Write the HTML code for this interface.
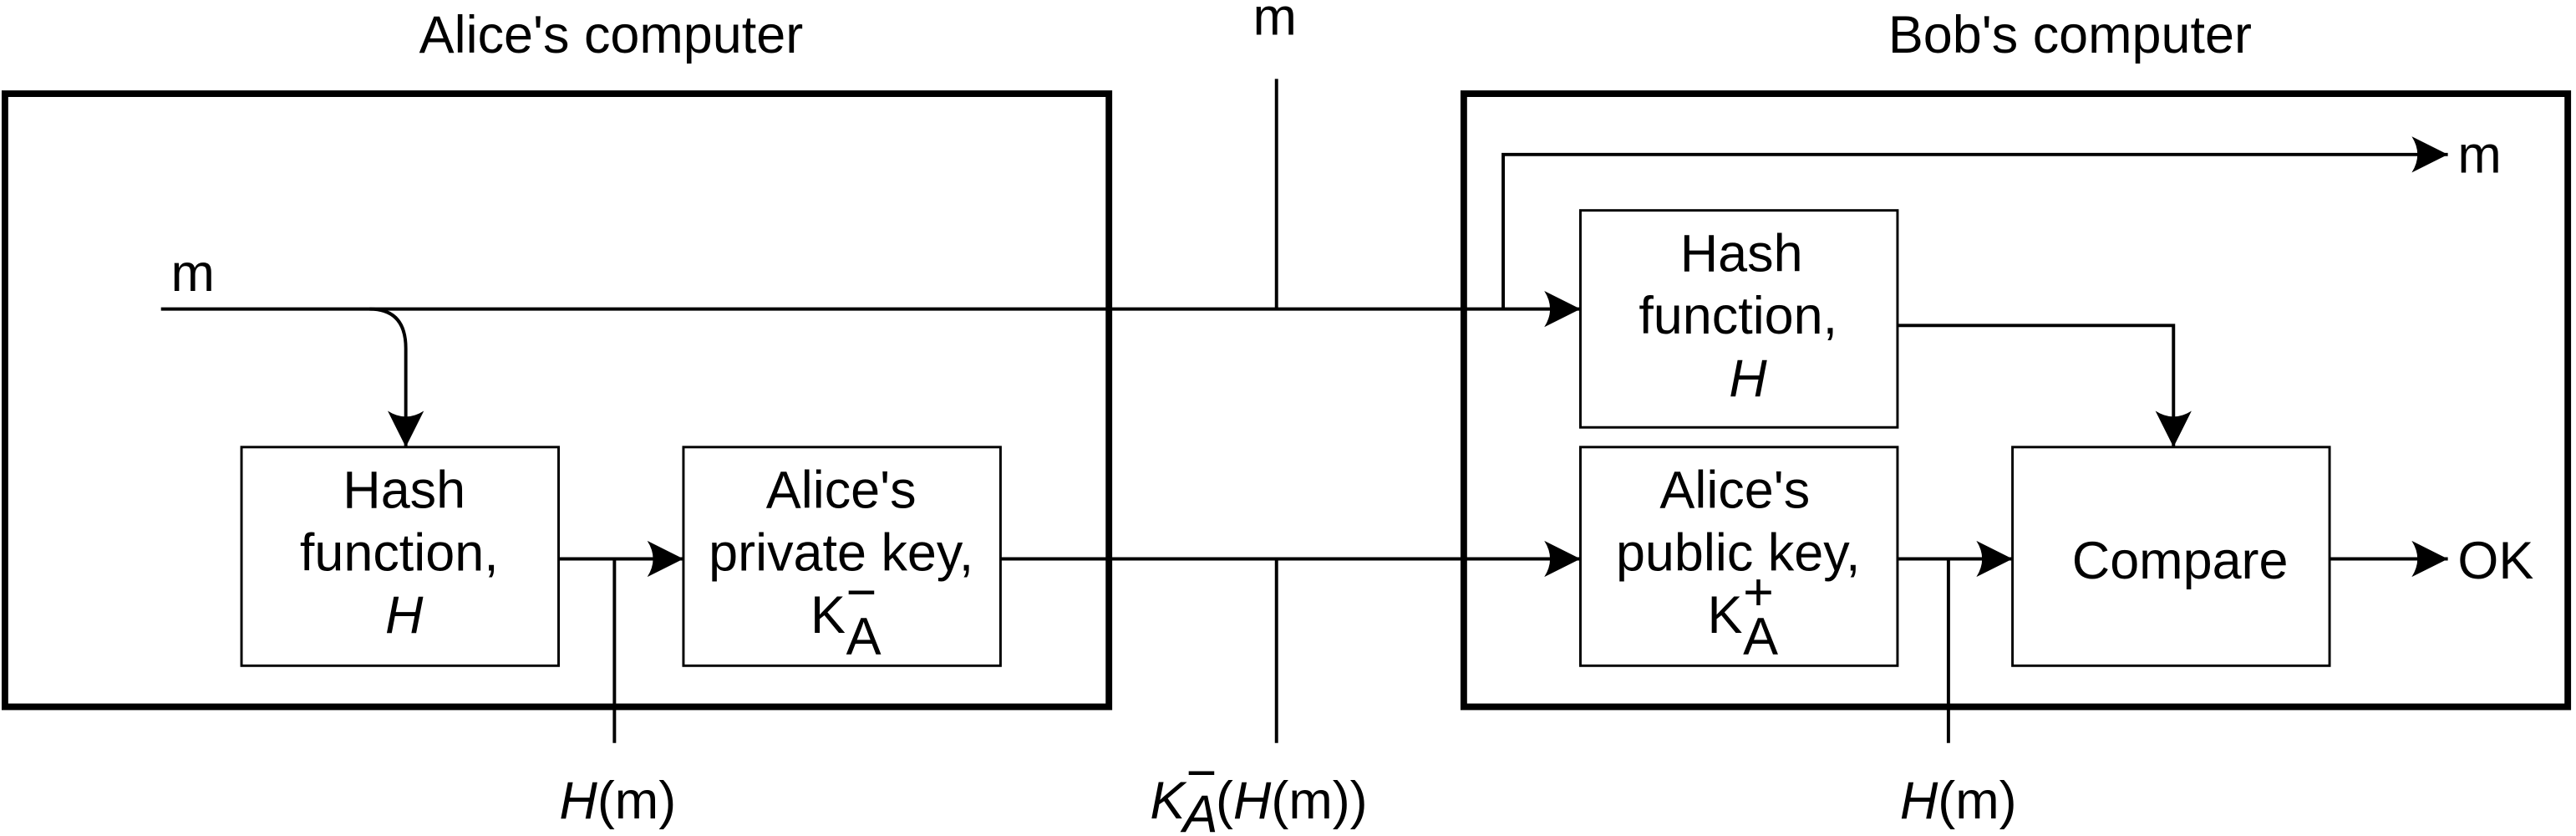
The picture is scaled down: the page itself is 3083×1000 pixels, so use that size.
<!DOCTYPE html>
<html><head><meta charset="utf-8"><style>
html,body{margin:0;padding:0;background:#fff}
svg{display:block}
text{font-family:"Liberation Sans",sans-serif;font-size:32px;fill:#000}
</style></head><body>
<svg width="3083" height="1000" viewBox="0 0 1568 508.6" xmlns="http://www.w3.org/2000/svg">
<defs>
<marker id="ah" markerWidth="24" markerHeight="22" refX="22" refY="11" orient="auto" markerUnits="userSpaceOnUse">
<path d="M0,0 L22,11 L0,22 Q7,11 0,0 Z" fill="#000"/>
</marker>
</defs>
<g fill="none" stroke="#000">
<rect x="3" y="57" width="672" height="373" stroke-width="4"/>
<rect x="891" y="57" width="672" height="373" stroke-width="4"/>
<g stroke-width="1.5">
<rect x="147" y="272" width="193" height="133"/>
<rect x="416" y="272" width="193" height="133"/>
<rect x="962" y="128" width="193" height="132"/>
<rect x="962" y="272" width="193" height="133"/>
<rect x="1225" y="272" width="193" height="133"/>
</g>
<g stroke-width="2">
<path d="M98,188 H962" marker-end="url(#ah)"/>
<path d="M225,188 Q247,188 247,212 V272" marker-end="url(#ah)"/>
<path d="M777,48 V188"/>
<path d="M340,340 H416" marker-end="url(#ah)"/>
<path d="M374,340 V452"/>
<path d="M609,340 H962" marker-end="url(#ah)"/>
<path d="M777,340 V452"/>
<path d="M915,188 V94 H1490" marker-end="url(#ah)"/>
<path d="M1155,198 H1323 V272" marker-end="url(#ah)"/>
<path d="M1155,340 H1225" marker-end="url(#ah)"/>
<path d="M1186,340 V452"/>
<path d="M1418,340 H1490" marker-end="url(#ah)"/>
</g>
</g>
<text x="372" y="32" text-anchor="middle" font-size="34">Alice's computer</text>
<text x="1260" y="32" text-anchor="middle" font-size="34">Bob's computer</text>
<text x="776" y="21" text-anchor="middle">m</text>
<text x="104" y="177">m</text>
<text x="1496" y="105">m</text>
<text x="1496" y="352">OK</text>
<text text-anchor="middle"><tspan x="246" y="309">Hash</tspan><tspan x="243" y="347">function,</tspan><tspan x="246" y="385" font-style="italic">H</tspan></text>
<text text-anchor="middle"><tspan x="512" y="309">Alice's</tspan><tspan x="512" y="347">private key,</tspan><tspan x="504" y="385">K</tspan></text>
<text x="515" y="371" font-size="24">−</text>
<text x="515" y="398" font-size="24">A</text>
<text text-anchor="middle"><tspan x="1060" y="165">Hash</tspan><tspan x="1058" y="203">function,</tspan><tspan x="1064" y="241" font-style="italic">H</tspan></text>
<text text-anchor="middle"><tspan x="1056" y="309">Alice's</tspan><tspan x="1058" y="347">public key,</tspan><tspan x="1050" y="385">K</tspan></text>
<text x="1061" y="371" font-size="24">+</text>
<text x="1061" y="398" font-size="24">A</text>
<text x="1327" y="352" text-anchor="middle">Compare</text>
<text x="376" y="498" text-anchor="middle"><tspan font-style="italic">H</tspan>(m)</text>
<text x="1192" y="498" text-anchor="middle"><tspan font-style="italic">H</tspan>(m)</text>
<text x="700" y="498"><tspan font-style="italic">K</tspan></text>
<text x="722" y="481" font-size="24">−</text>
<text x="720" y="506" font-size="24" font-style="italic">A</text>
<text x="740" y="498">(<tspan font-style="italic">H</tspan>(m))</text>
</svg>
</body></html>
